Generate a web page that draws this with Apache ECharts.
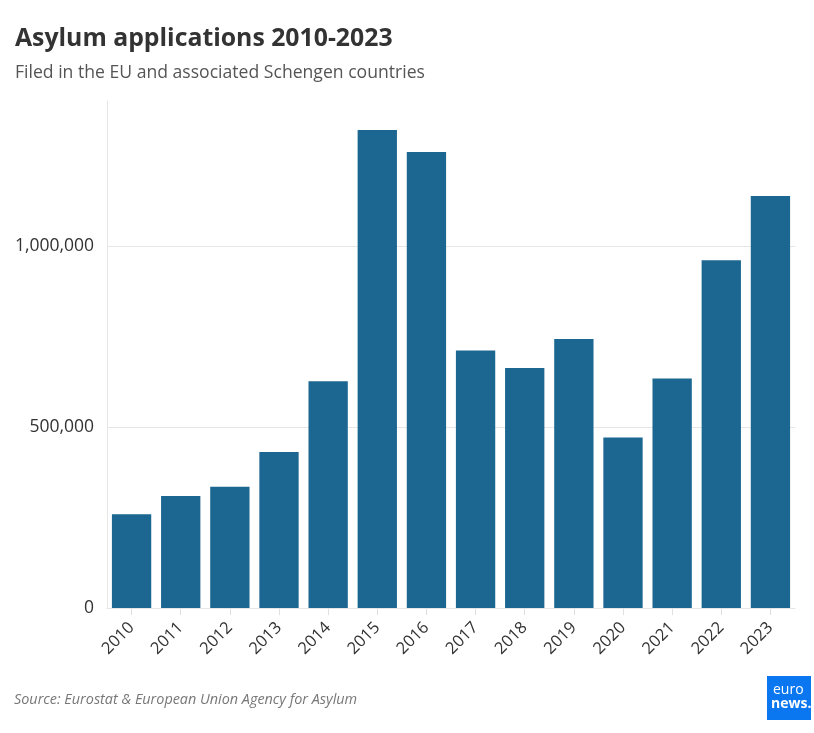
<!DOCTYPE html>
<html>
<head>
<meta charset="utf-8">
<script src="https://cdn.jsdelivr.net/npm/echarts@6/dist/echarts.min.js"></script>
<style>
html,body{margin:0;padding:0;background:#fff;}
#chart{width:814px;height:733px;}
</style>
</head>
<body>
<div id="chart"></div>
<script>
const years = ['2010','2011','2012','2013','2014','2015','2016','2017','2018','2019','2020','2021','2022','2023'];
const applications = [259000, 309000, 335000, 431000, 626000, 1320000, 1259000, 711000, 663000, 743000, 471000, 634000, 960000, 1138000];
const yTicks = [0, 500000, 1000000];

const FONT = "'Open Sans', 'Noto Sans', sans-serif";
const chart = echarts.init(document.getElementById('chart'), null, {renderer: 'canvas'});
chart.setOption({
  animation: false,
  backgroundColor: '#ffffff',
  title: [
    {text: 'Asylum applications 2010-2023', left: 10, top: 21,
     textStyle: {fontFamily: FONT, fontSize: 24.8, fontWeight: 'bold', color: '#333333'}},
    {text: 'Filed in the EU and associated Schengen countries', left: 10, top: 59,
     textStyle: {fontFamily: FONT, fontSize: 17.6, fontWeight: 'normal', color: '#555555'}},
    {text: 'Source: Eurostat & European Union Agency for Asylum', left: 9, top: 688,
     textStyle: {fontFamily: FONT, fontSize: 14.4, fontStyle: 'italic', fontWeight: 'normal', color: '#777777'}}
  ],
  grid: {left: 107, right: 19, top: 101, bottom: 125, containLabel: false},
  xAxis: {
    type: 'category',
    data: years,
    axisLine: {show: true, lineStyle: {color: '#e6e6e6', width: 1}},
    axisTick: {show: true, alignWithLabel: true, length: 7, lineStyle: {color: '#e0e0e0'}},
    axisLabel: {rotate: 45, margin: 17, fontFamily: FONT, fontSize: 16.5, color: '#333333', interval: 0}
  },
  yAxis: {
    type: 'value',
    min: 0,
    max: 1400000,
    interval: 500000,
    axisLine: {show: true, lineStyle: {color: '#e6e6e6', width: 1}},
    axisTick: {show: false},
    axisLabel: {
      showMaxLabel: false, margin: 13, fontFamily: FONT, fontSize: 17.5, color: '#333333',
      formatter: v => yTicks.indexOf(v) >= 0 ? v.toLocaleString('en-US') : ''
    },
    splitLine: {show: true, lineStyle: {color: ['#e6e6e6', '#e6e6e6', '#e6e6e6', 'rgba(0,0,0,0)'], width: 1}}
  },
  series: [{
    type: 'bar',
    data: applications,
    barCategoryGap: '20%',
    itemStyle: {color: '#1b6791'}
  }],
  graphic: [
    {type: 'rect', left: 767, top: 676, shape: {width: 44, height: 44}, style: {fill: '#0a76f0'}},
    {type: 'text', left: 773, top: 683, style: {text: 'euro', fill: '#ffffff', font: "14px 'Open Sans', sans-serif"}},
    {type: 'text', left: 771, top: 697, style: {text: 'news.', fill: '#ffffff', font: "bold 14px 'Open Sans', sans-serif"}}
  ]
});
</script>
</body>
</html>
